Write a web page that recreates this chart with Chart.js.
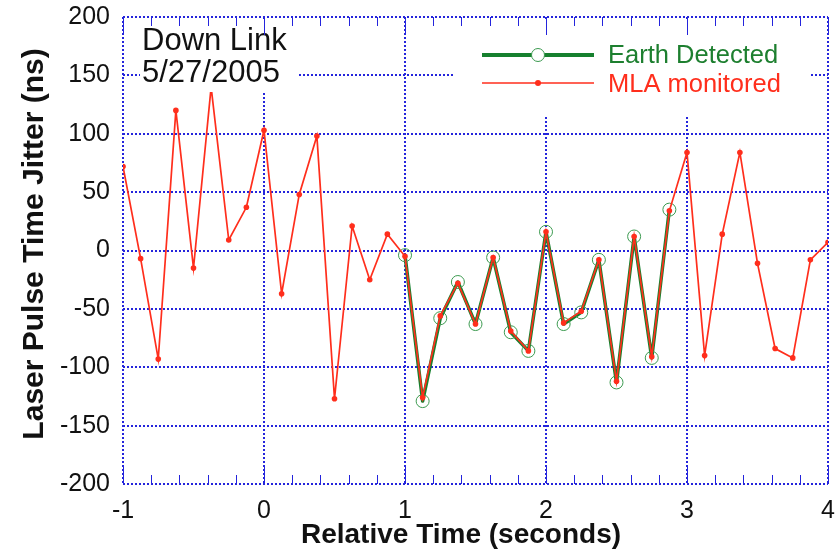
<!DOCTYPE html>
<html>
<head>
<meta charset="utf-8">
<script src="https://cdn.jsdelivr.net/npm/chart.js@4.4.1/dist/chart.umd.min.js"></script>
<style>
  html, body { margin: 0; padding: 0; background: #fff; }
  #wrap { width: 838px; height: 554px; }
</style>
</head>
<body>
<div id="wrap"><canvas id="jitterChart"></canvas></div>
<script>
// MLA monitored samples (seconds, ns)
const mlaTime = [-1, -0.875, -0.75, -0.625, -0.5, -0.375, -0.25, -0.125,
    0, 0.125, 0.25, 0.375, 0.5, 0.625, 0.75, 0.875,
    1, 1.125, 1.25, 1.375, 1.5, 1.625, 1.75, 1.875,
    2, 2.125, 2.25, 2.375, 2.5, 2.625, 2.75, 2.875,
    3, 3.125, 3.25, 3.375, 3.5, 3.625, 3.75, 3.875, 4];
const mlaJitter = [72, -7, -93, 120, -15, 140, 9, 37,
    103, -37, 48, 98, -127, 21, -25, 14,
    -5, -126, -56, -28, -63, -6, -69, -86,
    16, -62, -52, -8, -112, 12, -91, 34,
    84, -90, 14, 84, -11, -84, -92, -8, 7];

// Earth detected samples
const earthTime = [1, 1.125, 1.25, 1.375, 1.5, 1.625, 1.75, 1.875,
    2, 2.125, 2.25, 2.375, 2.5, 2.625, 2.75, 2.875];
const earthJitter = [-4, -129, -58, -27, -63, -6, -70, -86,
    16, -63, -53, -8, -113, 12, -92, 35];

const xTicks = [-1, 0, 1, 2, 3, 4];
const yTicks = [-200, -150, -100, -50, 0, 50, 100, 150, 200];
const noteLines = ['Down Link', '5/27/2005'];

const FONT = "'Liberation Sans', Arial, Helvetica, sans-serif";
const GRID_BLUE = '#2424dc';
const RED = '#ff2e1c';
const GREEN = '#16802e';

const toPoints = (xs, ys) => xs.map((t, i) => ({ x: t, y: ys[i] }));

// white label box in the upper left corner
const noteBox = {
    id: 'noteBox',
    afterDatasetsDraw(chart) {
        const { ctx, chartArea: a } = chart;
        ctx.save();
        ctx.fillStyle = '#fff';
        ctx.fillRect(a.left + 17, a.top + 2, 158, 73);
        ctx.fillStyle = '#111';
        ctx.font = '31px ' + FONT;
        ctx.textBaseline = 'alphabetic';
        ctx.fillText(noteLines[0], a.left + 19, a.top + 33);
        ctx.fillText(noteLines[1], a.left + 19, a.top + 65);
        ctx.restore();
    }
};

// legend drawn by hand so each entry shows line + marker
const lineLegend = {
    id: 'lineLegend',
    afterDatasetsDraw(chart) {
        const { ctx, chartArea: a } = chart;
        const ds = chart.data.datasets;
        ctx.save();
        ctx.fillStyle = '#fff';
        ctx.fillRect(a.right - 373, a.top + 2, 354, 96);

        const x0 = a.right - 346, x1 = a.right - 234, xm = (x0 + x1) / 2;
        // Earth Detected
        let y = a.top + 38;
        ctx.strokeStyle = GREEN;
        ctx.lineWidth = 4;
        ctx.beginPath(); ctx.moveTo(x0, y); ctx.lineTo(x1, y); ctx.stroke();
        ctx.fillStyle = '#fff';
        ctx.lineWidth = 1;
        ctx.strokeStyle = '#3c9a50';
        ctx.beginPath(); ctx.arc(xm, y, 6.5, 0, Math.PI * 2); ctx.fill(); ctx.stroke();
        ctx.font = '25.5px ' + FONT;
        ctx.fillStyle = '#1d7f2f';
        ctx.textBaseline = 'alphabetic';
        ctx.fillText(ds[1].label, a.right - 220, y + 8);

        // MLA monitored
        y = a.top + 66;
        ctx.strokeStyle = RED;
        ctx.lineWidth = 1.5;
        ctx.beginPath(); ctx.moveTo(x0, y); ctx.lineTo(x1, y); ctx.stroke();
        ctx.fillStyle = RED;
        ctx.beginPath(); ctx.arc(xm, y, 3, 0, Math.PI * 2); ctx.fill();
        ctx.fillText(ds[0].label, a.right - 220, y + 9);
        ctx.restore();
    }
};

// small inward ticks on the time axis, top and bottom
const minorTicks = {
    id: 'minorTicks',
    afterDatasetsDraw(chart) {
        const { ctx, chartArea: a, scales: { x } } = chart;
        ctx.save();
        ctx.strokeStyle = GRID_BLUE;
        ctx.lineWidth = 1;
        for (let i = 0; i <= 25; i++) {
            const px = Math.round(x.getPixelForValue(-1 + i * 0.2)) + 0.5;
            const len = i % 5 === 0 ? 18 : 9;
            ctx.beginPath();
            ctx.moveTo(px, a.bottom); ctx.lineTo(px, a.bottom - len);
            ctx.moveTo(px, a.top); ctx.lineTo(px, a.top + len);
            ctx.stroke();
        }
        ctx.restore();
    }
};

// axis titles, placed where the original has them
const axisTitles = {
    id: 'axisTitles',
    afterDraw(chart) {
        const { ctx } = chart;
        ctx.save();
        ctx.fillStyle = '#111';
        ctx.font = 'bold 28px ' + FONT;
        ctx.textAlign = 'center';
        ctx.textBaseline = 'alphabetic';
        ctx.fillText('Relative Time (seconds)', 461, 543);
        ctx.font = 'bold 30px ' + FONT;
        ctx.translate(43, 244);
        ctx.rotate(-Math.PI / 2);
        ctx.fillText('Laser Pulse Time Jitter (ns)', 0, 0);
        ctx.restore();
    }
};

const ctx = document.getElementById('jitterChart').getContext('2d');
new Chart(ctx, {
    type: 'line',
    data: {
        datasets: [{
            label: 'MLA monitored',
            data: toPoints(mlaTime, mlaJitter),
            borderColor: RED,
            backgroundColor: RED,
            borderWidth: 1.7,
            pointRadius: 2.8,
            pointBorderWidth: 0,
            pointBackgroundColor: RED,
            tension: 0
        }, {
            label: 'Earth Detected',
            data: toPoints(earthTime, earthJitter),
            borderColor: GREEN,
            borderWidth: 3.5,
            borderJoinStyle: 'round',
            pointRadius: 6.5,
            pointBorderWidth: 1,
            pointBorderColor: '#3c9a50',
            pointBackgroundColor: 'rgba(0,0,0,0)',
            tension: 0
        }]
    },
    options: {
        responsive: true,
        maintainAspectRatio: false,
        animation: false,
        layout: { padding: { left: 0, right: 10, top: 17, bottom: 0 } },
        scales: {
            x: {
                type: 'linear',
                min: -1,
                max: 4,
                afterFit: s => { s.height = 70; },
                afterBuildTicks: s => { s.ticks = xTicks.map(v => ({ value: v })); },
                grid: {
                    color: GRID_BLUE, lineWidth: 2,
                    drawTicks: true, tickLength: 12, tickColor: 'rgba(0,0,0,0)'
                },
                border: { display: false, dash: [2, 2] },
                ticks: {
                    color: '#111',
                    padding: 0,
                    font: { family: FONT, size: 25 },
                    callback: v => String(v)
                }
            },
            y: {
                min: -200,
                max: 200,
                afterFit: s => { s.width = 123; },
                afterBuildTicks: s => { s.ticks = yTicks.map(v => ({ value: v })); },
                grid: {
                    color: GRID_BLUE, lineWidth: 2,
                    drawTicks: true, tickLength: 13, tickColor: 'rgba(0,0,0,0)'
                },
                border: { display: false, dash: [2, 2] },
                ticks: {
                    color: '#111',
                    padding: 0,
                    font: { family: FONT, size: 25 },
                    callback: v => String(v)
                }
            }
        },
        plugins: {
            legend: { display: false },
            tooltip: { enabled: false }
        }
    },
    plugins: [noteBox, lineLegend, minorTicks, axisTitles]
});
</script>
</body>
</html>
